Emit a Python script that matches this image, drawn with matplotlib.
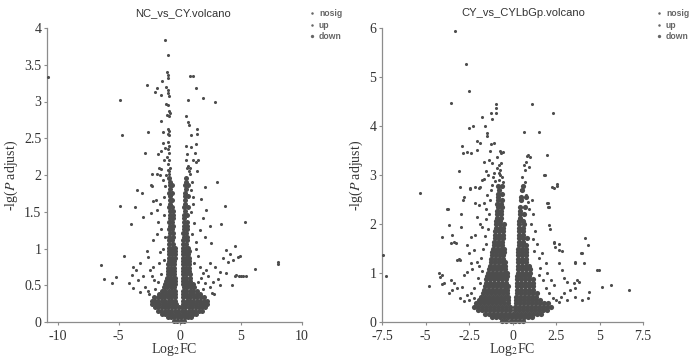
import matplotlib
matplotlib.use("Agg")
import matplotlib.pyplot as plt
from matplotlib.ticker import FuncFormatter
from matplotlib.lines import Line2D
import numpy as np

# ---------------- data: NC_vs_CY ----------------
left_title = "NC_vs_CY.volcano"
left_xticks = [-10, -5, 0, 5, 10]
left_yticks = [0, 0.5, 1, 1.5, 2, 2.5, 3, 3.5, 4]

# dense core rows  {-lg(P adjust): [Log2FC, ...]}
left_core = {
    0.02: [-0.5, -0.2, 0.1, 0.35],
    0.065: [-1.0, -0.72, -0.44, -0.16, 0.12, 0.4, 0.68, 0.95],
    0.11: [-1.45, -1.17, -0.89, -0.61, -0.33, -0.05, 0.23, 0.51, 0.79, 1.07, 1.35],
    0.155: [-1.8, -1.52, -1.24, -0.96, -0.68, -0.4, -0.12, 0.16, 0.44, 0.72, 1.0, 1.28, 1.56, 1.8],
    0.2: [-2.05, -1.77, -1.49, -1.21, -0.93, -0.65, -0.37, -0.1, 0.18, 0.46, 0.74, 1.02, 1.3, 1.58, 1.86, 2.1],
    0.245: [-2.25, -1.97, -1.69, -1.41, -1.13, -0.85, -0.57, -0.3, 0.25, 0.52, 0.8, 1.08, 1.36, 1.64, 1.92, 2.2],
    0.29: [-2.3, -2.02, -1.74, -1.46, -1.18, -0.9, -0.62, -0.35, 0.28, 0.56, 0.84, 1.12, 1.4, 1.68, 1.96, 2.25],
    0.335: [-2.1, -1.82, -1.54, -1.26, -0.98, -0.7, -0.42, 0.3, 0.58, 0.86, 1.14, 1.42, 1.7, 2.0],
    0.38: [-1.7, -1.42, -1.14, -0.86, -0.58, -0.38, 0.3, 0.55, 0.83, 1.11, 1.39, 1.67],
    0.425: [-1.45, -1.17, -0.89, -0.61, -0.38, 0.3, 0.55, 0.83, 1.11, 1.4],
    0.47: [-1.3, -1.02, -0.74, -0.46, 0.32, 0.6, 0.88, 1.16],
    0.515: [-1.2, -0.92, -0.64, -0.4, 0.3, 0.58, 0.86, 1.1],
    0.56: [-1.1, -0.82, -0.56, -0.38, 0.3, 0.55, 0.83],
    0.605: [-1.05, -0.78, -0.52, -0.36, 0.28, 0.52, 0.8],
    0.65: [-1.0, -0.75, -0.5, 0.3, 0.55, 0.8],
    0.695: [-1.0, -0.72, -0.48, 0.28, 0.52, 0.78],
    0.74: [-0.95, -0.7, -0.45, 0.27, 0.52, 0.75],
    0.785: [-0.95, -0.7, -0.45, 0.27, 0.5, 0.75],
    0.83: [-0.92, -0.67, -0.43, 0.26, 0.5, 0.72],
    0.875: [-0.92, -0.65, -0.42, 0.26, 0.5, 0.72],
    0.92: [-0.9, -0.65, -0.42, 0.26, 0.48, 0.7],
    0.965: [-0.9, -0.62, -0.4, 0.27, 0.5, 0.72],
    1.01: [-0.88, -0.6, -0.4, 0.28, 0.5, 0.7],
    1.06: [-0.85, -0.55, 0.3, 0.55],
    1.11: [-0.9, -0.6, 0.3, 0.6],
    1.16: [-0.85, -0.55, 0.32, 0.62],
    1.21: [-0.8, -0.55, 0.3, 0.55],
    1.26: [-0.85, -0.6, 0.35, 0.6],
    1.31: [-0.8, -0.55, 0.32, 0.58],
    1.36: [-0.85, -0.6, 0.35, 0.62],
    1.41: [-0.8, -0.55, 0.33],
    1.46: [-0.82, -0.58, 0.35, 0.6],
    1.51: [-0.8, -0.55, 0.4],
    1.56: [-0.85, -0.6, 0.38, 0.65],
    1.61: [-0.8, 0.4],
    1.66: [-0.82, -0.6, 0.45],
    1.71: [-0.8, 0.42, 0.7],
    1.76: [-0.85, -0.6, 0.45],
    1.81: [-0.8, 0.5],
    1.86: [-0.82, -0.62, 0.45, 0.7],
    1.91: [-0.8, 0.5],
    1.96: [-0.85, 0.48],
}

left_points = [
    (-10.8, 3.33), (-4.85, 3.02), (-4.73, 2.55), (-1.17, 3.84), (-0.95, 3.63), (-2.64, 3.22), (-2.6, 2.59), (-2.86, 2.30),
    (0.71, 3.02), (0.85, 3.35), (1.05, 3.35), (1.36, 3.19), (1.93, 3.05), (2.88, 3.0),
    (-1.05, 3.40), (-1.0, 3.36), (-1.0, 3.32), (-1.1, 3.2), (-1.0, 3.15), (-0.95, 3.12), (-0.9, 3.07), (-1.1, 2.97),
    (-1.0, 2.95), (-0.85, 2.87), (-0.8, 2.85), (-1.05, 2.81), (-0.85, 2.8), (-1.0, 2.62), (-0.9, 2.6), (-0.95, 2.56),
    (-0.85, 2.55), (-1.0, 2.45), (-0.9, 2.4), (-0.95, 2.35), (-0.85, 2.3), (-1.05, 2.25), (-0.9, 2.2), (-0.95, 2.15),
    (-0.8, 2.1), (-1.0, 2.07), (-0.9, 2.05), (-0.85, 2.02), (-1.1, 2.0),
    (-2.01, 3.13), (-1.85, 3.19), (-1.5, 3.09), (-1.45, 3.28), (-1.56, 2.74), (-1.36, 2.58), (-2.23, 2.02), (-1.9, 2.02),
    (-1.7, 2.09), (-1.74, 2.28), (-1.55, 2.33), (-1.36, 2.44), (-1.2, 2.37), (-1.3, 2.2), (-1.5, 2.08),
    (0.5, 2.8), (0.65, 2.72), (0.75, 2.68), (0.95, 2.55), (1.4, 2.62), (1.45, 2.56), (0.55, 2.39), (0.9, 2.38), (1.3, 2.42),
    (0.6, 2.28), (0.55, 2.2), (0.7, 2.12), (0.6, 2.1), (0.75, 2.05), (0.8, 2.02), (1.1, 2.2), (1.35, 2.18), (1.5, 2.2),
    (1.25, 2.3), (1.4, 2.05), (0.85, 2.1),
    (-6.47, 0.77), (-6.18, 0.58), (-5.22, 0.61), (-5.58, 0.53), (-4.9, 1.58), (-4.57, 0.9), (-4.0, 1.33), (-3.67, 1.56),
    (-3.48, 1.79), (-3.05, 1.75), (-2.99, 1.43), (-2.38, 1.86), (-2.31, 1.85), (-2.18, 1.64), (-2.37, 1.48), (-1.85, 1.52),
    (-1.96, 1.66), (-1.63, 2.0), (-1.36, 1.93), (-1.77, 1.36), (-1.5, 1.27), (-2.18, 1.12), (-1.85, 1.2), (-2.59, 0.89),
    (-2.72, 0.96), (-3.81, 0.75), (-3.59, 0.71), (-3.94, 0.64), (-3.27, 0.8), (-4.13, 0.53), (-3.81, 0.46), (-3.4, 0.57),
    (-3.0, 0.62), (-2.86, 0.48), (-3.27, 0.41), (-2.45, 0.71), (-2.18, 0.75), (-2.31, 0.62), (-2.1, 0.57),
    (3.05, 1.91), (3.67, 1.58), (3.4, 1.33), (5.36, 1.36), (4.49, 1.03), (4.9, 0.9), (6.12, 0.72), (8.04, 0.79),
    (8.07, 0.82), (4.27, 0.5), (4.5, 0.62), (4.85, 0.62), (5.2, 0.62),
    (2.04, 1.84), (1.77, 1.68), (2.18, 1.52), (1.9, 1.41), (2.45, 1.30), (1.63, 1.25), (2.04, 1.16), (2.59, 1.07),
    (1.36, 1.09), (3.81, 0.98), (4.08, 0.93), (4.35, 0.84), (4.76, 0.89), (3.95, 0.82), (3.54, 0.87), (4.63, 0.64),
    (5.03, 0.63), (5.39, 0.63), (3.27, 0.68), (2.86, 0.75), (3.13, 0.59), (3.81, 0.66), (2.45, 0.8), (2.18, 0.71),
    (2.72, 0.55), (2.31, 0.62), (1.9, 0.66), (1.63, 0.75), (2.04, 0.53), (2.45, 0.48), (3.27, 0.5),
    (-1.25, 1.7), (-1.3, 1.45), (-1.2, 1.15), (-1.4, 1.0), (-1.6, 0.95), (-1.3, 0.85), (-1.7, 0.8), (-1.5, 0.65),
    (-1.8, 0.55), (-2.0, 0.45), (-1.6, 1.6), (-1.2, 1.85), (1.0, 1.9), (1.1, 1.7), (0.95, 1.5), (1.2, 1.35), (1.0, 1.2),
    (1.3, 1.0), (1.5, 0.9), (1.2, 0.8), (1.7, 0.6), (1.5, 0.55), (1.9, 0.45), (2.6, 0.4), (2.8, 0.38), (-2.6, 0.42),
    (-2.5, 0.38), (1.05, 1.6), (0.9, 1.8),
]

# ---------------- data: CY_vs_CYLbGp ----------------
right_title = "CY_vs_CYLbGp.volcano"
right_xticks = [-7.5, -5, -2.5, 0, 2.5, 5, 7.5]
right_yticks = [0, 1, 2, 3, 4, 5, 6]

right_core = {
    0.03: [-0.6, -0.35, -0.1, 0.15, 0.4, 0.6],
    0.1: [-1.2, -0.97, -0.74, -0.51, -0.28, -0.05, 0.18, 0.41, 0.64, 0.87, 1.1],
    0.17: [-1.6, -1.37, -1.14, -0.91, -0.68, -0.45, -0.22, 0.01, 0.24, 0.47, 0.7, 0.93, 1.16, 1.39, 1.62],
    0.24: [-2.0, -1.77, -1.54, -1.31, -1.08, -0.85, -0.62, -0.39, -0.16, 0.16, 0.39, 0.62, 0.85, 1.08, 1.31, 1.54, 1.77, 2.0],
    0.31: [-2.2, -1.97, -1.74, -1.51, -1.28, -1.05, -0.82, -0.59, -0.36, -0.15, 0.15, 0.36, 0.59, 0.82, 1.05, 1.28, 1.51, 1.74, 1.97, 2.2],
    0.38: [-2.1, -1.87, -1.64, -1.41, -1.18, -0.95, -0.72, -0.49, -0.26, 0.22, 0.45, 0.68, 0.91, 1.14, 1.37, 1.6, 1.83, 2.06],
    0.45: [-1.9, -1.67, -1.44, -1.21, -0.98, -0.75, -0.52, -0.28, 0.22, 0.45, 0.68, 0.91, 1.14, 1.37, 1.6],
    0.52: [-1.8, -1.57, -1.34, -1.11, -0.88, -0.65, -0.42, -0.24, 0.22, 0.45, 0.68, 0.91, 1.14, 1.37],
    0.59: [-1.7, -1.47, -1.24, -1.01, -0.78, -0.55, -0.32, 0.24, 0.47, 0.7, 0.93, 1.16, 1.39],
    0.66: [-1.65, -1.42, -1.19, -0.96, -0.73, -0.5, -0.3, 0.25, 0.48, 0.71, 0.94, 1.17],
    0.73: [-1.6, -1.37, -1.14, -0.91, -0.68, -0.45, -0.28, 0.26, 0.49, 0.72, 0.95, 1.18],
    0.8: [-1.55, -1.32, -1.09, -0.86, -0.63, -0.4, 0.27, 0.5, 0.73, 0.96, 1.19],
    0.87: [-1.5, -1.27, -1.04, -0.81, -0.58, -0.35, 0.28, 0.51, 0.74, 0.97, 1.2],
    0.94: [-1.45, -1.22, -0.99, -0.76, -0.53, -0.33, 0.28, 0.51, 0.74, 0.97],
    1.01: [-1.4, -1.17, -0.94, -0.71, -0.48, -0.32, 0.29, 0.52, 0.75, 0.98],
    1.08: [-1.35, -1.12, -0.89, -0.66, -0.43, 0.3, 0.53, 0.76, 0.99],
    1.15: [-1.3, -1.07, -0.84, -0.61, -0.42, 0.3, 0.53, 0.76, 0.96],
    1.22: [-1.25, -1.02, -0.79, -0.56, -0.42, 0.31, 0.54, 0.77],
    1.29: [-1.22, -0.99, -0.76, -0.53, 0.32, 0.55, 0.78],
    1.36: [-1.2, -0.97, -0.74, -0.52, 0.32, 0.55, 0.78],
    1.43: [-1.15, -0.92, -0.69, -0.5, 0.33, 0.56, 0.8],
    1.5: [-1.1, -0.87, -0.64, -0.48, 0.34, 0.57, 0.8],
    1.57: [-1.05, -0.82, -0.59, 0.35, 0.58, 0.8],
    1.64: [-1.05, -0.82, -0.59, 0.36, 0.59],
    1.71: [-1.0, -0.77, -0.55, 0.36, 0.59, 0.82],
    1.78: [-1.0, -0.77, -0.55, 0.37, 0.6],
    1.85: [-0.98, -0.75, -0.55, 0.38, 0.61],
    1.92: [-0.95, -0.72, -0.52, 0.38, 0.6],
    1.99: [-0.95, -0.72, -0.5, 0.4, 0.65],
    2.06: [-0.92, -0.7, 0.4, 0.62],
    2.13: [-0.9, -0.68, 0.42],
    2.2: [-0.9, -0.65, 0.42, 0.65],
    2.27: [-0.88, -0.65, 0.45],
    2.34: [-0.85, -0.62, 0.45, 0.7],
    2.41: [-0.88, -0.65],
    2.48: [-0.85, -0.62, 0.5],
    2.55: [-0.82, 0.5, 0.75],
    2.62: [-0.85, -0.6],
    2.7: [-0.8, 0.55],
    2.78: [-0.82, -0.6, 0.6],
}

right_points = [
    (-3.28, 5.94), (-2.68, 5.27), (-2.51, 4.72), (-3.52, 4.47), (-0.94, 4.44), (-0.94, 4.36), (-0.94, 4.27), (-1.24, 4.26),
    (-1.17, 4.14), (-1.78, 4.18), (-1.59, 4.0), (-2.49, 3.95), (-2.26, 4.0), (-1.45, 3.85), (-1.47, 3.8), (1.13, 4.45),
    (2.32, 4.26), (0.65, 3.87), (1.55, 3.87),
    (-2.93, 3.6), (-2.83, 3.44), (-2.64, 3.46), (-2.37, 3.44), (-2.03, 3.52), (-2.03, 3.7), (-1.84, 3.65), (-1.26, 3.63),
    (-1.07, 3.66), (-1.3, 3.5), (-0.73, 3.49), (-0.57, 3.46), (-0.65, 3.44), (-1.65, 3.27), (-1.36, 3.31), (-1.17, 3.25),
    (-0.88, 3.37), (-0.79, 3.2), (-3.09, 3.09), (-1.55, 3.09), (-0.69, 3.1), (-0.75, 3.05),
    (0.84, 3.39), (0.9, 3.41), (1.03, 3.37), (0.75, 3.27), (0.65, 3.2), (0.94, 3.16), (0.7, 3.1), (1.99, 3.41), (1.84, 3.0),
    (-2.99, 2.75), (-2.8, 2.56), (-2.83, 2.5), (-2.45, 2.71), (-2.13, 2.75), (-1.84, 2.75), (-1.65, 2.91), (-1.74, 2.9),
    (2.57, 2.78), (2.41, 2.73), (2.03, 2.42), (2.03, 2.34),
    (-3.72, 2.30), (-2.95, 2.2), (-3.66, 1.98), (-2.95, 1.93), (-4.08, 1.74), (-3.47, 1.78), (-3.56, 1.62), (-3.37, 1.64),
    (-2.6, 1.57), (-3.18, 1.27), (-2.99, 1.27), (-2.51, 1.4), (-2.22, 1.47), (-2.41, 1.74), (-2.13, 1.78), (-1.84, 2.01),
    (-1.74, 1.94), (-2.03, 2.15), (-1.94, 2.39), (-1.65, 2.42),
    (2.09, 1.98), (2.15, 1.89), (2.37, 1.61), (2.47, 1.54), (2.66, 1.47), (2.86, 1.44), (2.66, 1.2), (2.86, 1.06),
    (3.62, 1.21), (4.0, 1.4), (4.33, 1.57), (4.14, 1.71), (4.87, 1.06), (4.39, 0.62), (3.72, 0.86), (3.81, 0.82),
    (3.52, 0.79), (3.14, 0.82), (2.95, 0.89), (3.33, 0.65), (3.62, 0.69), (4.0, 0.45), (2.76, 0.52), (2.95, 0.59),
    (3.14, 0.45),
    (-4.24, 0.99), (-4.14, 0.92), (-3.95, 0.79), (-4.05, 0.78), (-3.56, 0.86), (-3.37, 0.79), (-3.47, 0.65), (-3.18, 0.69),
    (-2.89, 0.72), (-3.66, 0.59), (-2.8, 0.96), (-2.6, 1.03), (-2.32, 1.09), (-2.41, 1.2), (-2.03, 1.23),
    (-7.45, 1.37), (-7.26, 0.94), (-5.29, 2.64), (-4.81, 0.73), (-4.04, 0.96), (-3.75, 2.3), (-3.22, 1.62), (-3.09, 1.28),
    (-2.47, 2.73), (-1.94, 2.73), (-2.13, 2.42), (4.96, 1.07), (5.15, 0.71), (5.67, 0.76), (6.69, 0.65), (4.35, 0.48),
    (3.58, 0.52), (4.1, 1.21), (3.58, 1.22), (3.95, 1.4), (2.57, 2.82), (2.28, 2.75), (1.8, 3.0), (1.99, 2.42),
    (2.09, 2.35), (2.37, 1.64), (2.66, 1.59),
    (-0.7, 3.0), (-0.6, 2.95), (-0.8, 2.9), (-1.0, 2.88), (-1.1, 2.95), (-0.55, 2.85), (-1.2, 2.8), (-0.9, 3.15),
    (-1.05, 3.05), (-0.65, 3.25), (-1.4, 3.0), (-1.25, 2.7), (-1.45, 2.6), (-1.3, 2.5), (-1.5, 2.3), (-1.35, 2.2),
    (-1.55, 2.1), (-1.4, 1.9), (-1.6, 1.75), (-1.5, 1.6), (-1.7, 1.5), (-1.8, 1.3), (-1.9, 1.15), (-1.75, 1.05),
    (-2.0, 0.9), (-1.85, 0.8), (-2.2, 0.7), (-2.4, 0.6), (-2.6, 0.55), (-2.2, 0.5), (-2.5, 0.45), (-2.8, 0.42), (-3.0, 0.5),
    (0.55, 2.95), (0.7, 2.85), (0.5, 2.7), (0.8, 2.6), (0.9, 2.45), (1.1, 2.5), (0.95, 2.3), (1.2, 2.2), (1.05, 2.0),
    (1.3, 1.85), (1.15, 1.7), (1.4, 1.6), (1.25, 1.45), (1.5, 1.3), (1.6, 1.1), (1.5, 0.95), (1.75, 0.85), (1.9, 0.7),
    (2.1, 0.6), (2.3, 0.5), (2.5, 0.45), (2.7, 0.4), (1.7, 1.4), (1.9, 1.2), (2.0, 1.0), (2.2, 0.85), (2.4, 0.75),
]

legend_labels = ["nosig", "up", "down"]

# ---------------- styling ----------------
plt.rcParams['mathtext.fontset'] = 'stix'
SERIF = ['Liberation Serif', 'DejaVu Serif']
SANS = ['Liberation Sans', 'DejaVu Sans']
PT_COLOR = '#4d4d4d'
AX_COLOR = '#8c8c8c'
TXT_COLOR = '#333333'

fig = plt.figure(figsize=(7.0, 3.57), dpi=100)
ax_l = fig.add_axes([47 / 700, 35 / 357, 255 / 700, 294 / 357])
ax_r = fig.add_axes([382 / 700, 35 / 357, 261 / 700, 294 / 357])


def core_arrays(core):
    xs, ys = [], []
    for yv, row in core.items():
        xs.extend(row)
        ys.extend([yv] * len(row))
    return np.array(xs), np.array(ys)


def draw(ax, core, points, core_size, xlim, ylim, xticks, yticks, title, title_x, legend_x):
    cx, cy = core_arrays(core)
    p = np.array(points)
    up = p[p[:, 0] > 0]
    down = p[p[:, 0] <= 0]
    ax.scatter(cx, cy, s=core_size, marker='o', c=PT_COLOR, linewidths=0, clip_on=False, zorder=2)
    ax.scatter(up[:, 0], up[:, 1], s=5, marker='o', c=PT_COLOR, linewidths=0, clip_on=False, zorder=3)
    ax.scatter(down[:, 0], down[:, 1], s=5, marker='o', c=PT_COLOR, linewidths=0, clip_on=False, zorder=3)
    ax.set_xlim(*xlim)
    ax.set_ylim(*ylim)
    ax.set_xticks(xticks)
    ax.set_yticks(yticks)
    fmt = FuncFormatter(lambda v, _: '%g' % v)
    ax.xaxis.set_major_formatter(fmt)
    ax.yaxis.set_major_formatter(fmt)
    for sp in ('top', 'right'):
        ax.spines[sp].set_visible(False)
    for sp in ('left', 'bottom'):
        ax.spines[sp].set_color(AX_COLOR)
        ax.spines[sp].set_linewidth(0.9)
    ax.tick_params(axis='both', direction='out', length=2.5, width=0.8, color=AX_COLOR,
                   labelsize=10, labelcolor=TXT_COLOR)
    ax.tick_params(axis='x', pad=3)
    ax.tick_params(axis='y', pad=1.5)
    for lab in ax.get_xticklabels() + ax.get_yticklabels():
        lab.set_family(SERIF)
    ax.set_xlabel('Log$_2$FC', fontsize=10, color=TXT_COLOR, family=SERIF, labelpad=-1)
    ax.set_ylabel('-lg($\\mathit{P}$ adjust)', fontsize=10, color=TXT_COLOR, family=SERIF, labelpad=3)
    fig.text(title_x / 700, 1 - 13 / 357, title, ha='center', va='center', fontsize=8,
             color=TXT_COLOR, family=SANS)
    handles = [Line2D([], [], ls='', marker='o', ms=ms, mew=0, color='#666666') for ms in (1.8, 1.8, 2.4)]
    leg = ax.legend(handles, legend_labels, loc='upper left', bbox_to_anchor=(legend_x / 700, 1 - 9 / 357),
                    bbox_transform=fig.transFigure, frameon=False,
                    handlelength=0.6, handletextpad=0.55, labelspacing=0.3, borderpad=0,
                    borderaxespad=0, prop={'family': SANS, 'size': 6.2, 'weight': 'bold'})
    for t in leg.get_texts():
        t.set_color('#666666')


draw(ax_l, left_core, left_points, 13, (-10.86, 10), (0, 4), left_xticks, left_yticks, left_title, 183, 309)
draw(ax_r, right_core, right_points, 14, (-7.5, 7.5), (0, 6), right_xticks, right_yticks, right_title, 523, 656)

fig.savefig('out.png', dpi=100)
